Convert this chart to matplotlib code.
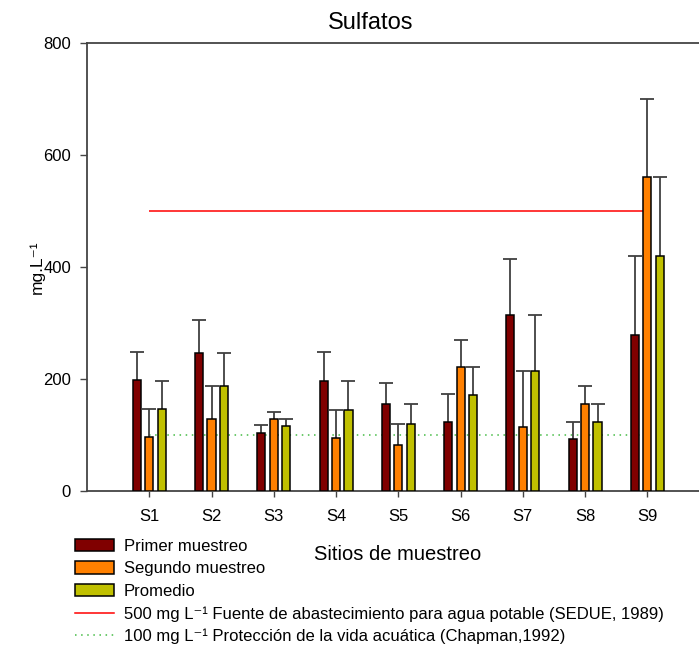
import numpy as np
import matplotlib
matplotlib.use('Agg')
import matplotlib.pyplot as plt
from matplotlib.patches import Patch
from matplotlib.lines import Line2D

plt.rcParams['font.family'] = ['Liberation Sans', 'DejaVu Sans']

# Sulfatos por sitio (mg/L) y desviación estándar
sitios = ['S1', 'S2', 'S3', 'S4', 'S5', 'S6', 'S7', 'S8', 'S9']
primer = [198, 247, 104, 197, 155, 124, 315, 92, 278]
primer_sd = [50, 59, 13, 52, 37, 49, 100, 32, 141]
segundo = [96, 129, 129, 94, 82, 221, 114, 156, 560]
segundo_sd = [50, 59, 12, 51, 37, 48, 100, 32, 140]
promedio = [147, 188, 116, 145, 119, 172, 214, 124, 419]
promedio_sd = [50, 59, 13, 52, 36, 49, 101, 32, 141]

limite_potable = 500   # SEDUE, 1989
limite_acuatica = 100  # Chapman, 1992

colores = ['#800000', '#ff8000', '#c0c000']
nombres = ['Primer muestreo', 'Segundo muestreo', 'Promedio']

fig = plt.figure(figsize=(6.99, 6.45), dpi=100)
ax = fig.add_axes([87/699, 1 - 491/645, 1 - 87/699, (491 - 43)/645])

x = np.arange(1, len(sitios) + 1)
ancho = 0.13
desp = 0.2

ax.hlines(limite_potable, 1, 9, color='#ff0000', lw=1.1, zorder=1)
ax.hlines(limite_acuatica, 1, 9, color='#44bb44', lw=1.1, linestyles=(0, (1, 3)), zorder=1)

series = [(primer, primer_sd), (segundo, segundo_sd), (promedio, promedio_sd)]
for i, (vals, sd) in enumerate(series):
    pos = x + (i - 1) * desp
    ax.bar(pos, vals, width=ancho, color=colores[i], edgecolor='black', lw=1.1, zorder=3)
    _, caps, _ = ax.errorbar(pos, vals, yerr=[np.zeros(len(sd)), sd], fmt='none',
                             ecolor='#404040', elinewidth=1.3, capsize=4.7,
                             capthick=1.3, zorder=2)
    caps[0].set_visible(False)

ax.set_xlim(0, 9.83)
ax.set_ylim(0, 800)
ax.set_xticks(x)
ax.set_xticklabels(sitios)
ax.set_yticks([0, 200, 400, 600, 800])
ax.tick_params(axis='y', length=5, width=1, color='#444444', pad=6.5, labelsize=12)
ax.tick_params(axis='x', length=4.3, width=1, color='#444444', pad=9, labelsize=12)
ax.spines['right'].set_visible(False)
for lado in ['left', 'top', 'bottom']:
    ax.spines[lado].set_color('#444444')
    ax.spines[lado].set_linewidth(1.3)

ax.set_ylabel('mg.L⁻¹', fontsize=12.5, labelpad=-1)
fig.text(371/699, 1 - 23/645, 'Sulfatos', fontsize=17, ha='center', va='center')
fig.text(398/699, 1 - 555/645, 'Sitios de muestreo', fontsize=14.5, ha='center', va='center')

manejadores = [Patch(facecolor=c, edgecolor='black', lw=1.1) for c in colores]
manejadores += [Line2D([], [], color='#ff0000', lw=1.1),
                Line2D([], [], color='#44bb44', lw=1.1, ls=(0, (1, 3)))]
etiquetas = nombres + ['500 mg L⁻¹ Fuente de abastecimiento para agua potable (SEDUE, 1989)',
                       '100 mg L⁻¹ Protección de la vida acuática (Chapman,1992)']
fig.legend(manejadores, etiquetas, loc='upper left', bbox_to_anchor=(75/699, 1 - 539/645),
           frameon=False, fontsize=12, borderpad=0, borderaxespad=0,
           handlelength=2.33, handleheight=0.75, handletextpad=0.58, labelspacing=0.44)

fig.savefig('out.png', dpi=100)
